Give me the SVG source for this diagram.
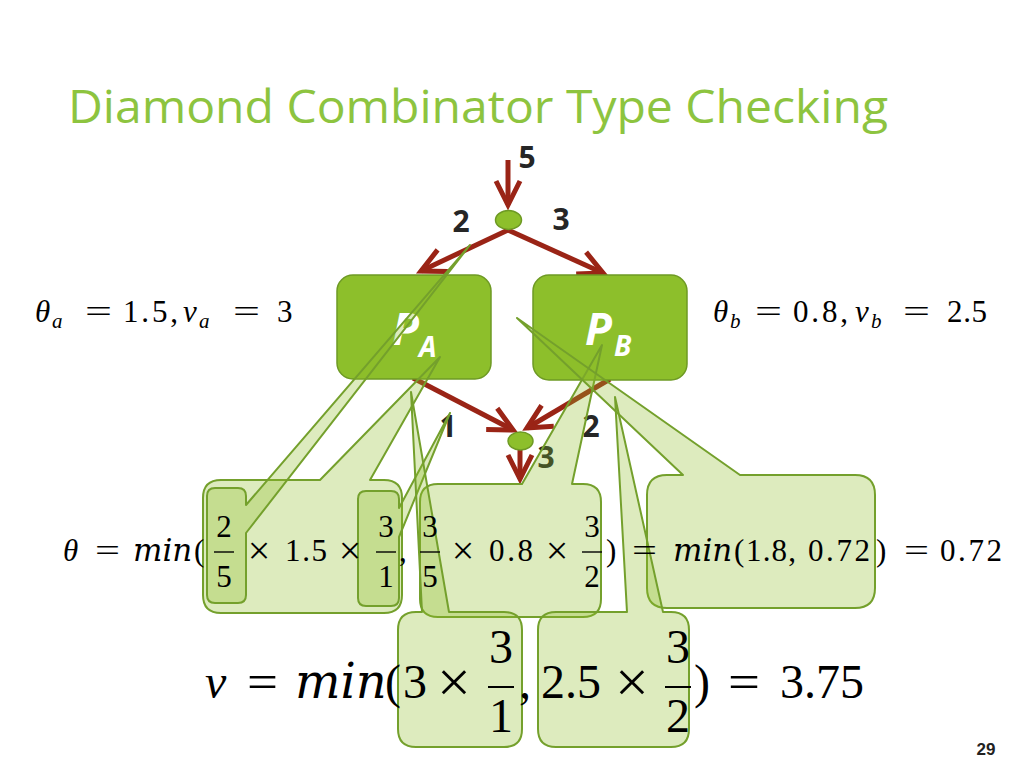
<svg xmlns="http://www.w3.org/2000/svg" width="1024" height="768" viewBox="0 0 1024 768">
<style>
.title{font-family:"Open Sans","DejaVu Sans",sans-serif;font-size:46px;fill:#8dc43f}
.lbl{font-family:"Open Sans","DejaVu Sans",sans-serif;font-weight:bold;font-size:30px;fill:#262626}
.pl{font-family:"Open Sans","DejaVu Sans",sans-serif;font-weight:bold;font-style:italic;fill:#ffffff}
.m{font-family:"Liberation Serif","DejaVu Serif",serif;fill:#000}
.i{font-style:italic}
.mn{font-family:"DejaVu Serif","Liberation Serif",serif;font-style:italic}
.s{font-size:31px}
.b{font-size:48px}
.xs{font-size:40px}
.xb{font-size:60px}
.sub{font-size:21px;font-style:italic}
.box{fill:#8dbf2b;stroke:#6e9a24;stroke-width:1.5}
.dot{fill:#8dbf2b;stroke:#6e9a24;stroke-width:1.5}
.co{fill:#8dbe28;fill-opacity:0.3;stroke:#74a02c;stroke-width:2;stroke-linejoin:round}
.arr{stroke:#9a2416;stroke-width:5;fill:none;marker-end:url(#ah)}
.bar{stroke:#000;stroke-width:1.4}
.barb{stroke:#000;stroke-width:2}
.pg{font-family:"Liberation Sans",Arial,sans-serif;font-weight:bold;font-size:17px;fill:#222}
</style>
<defs>
<marker id="ah" markerUnits="userSpaceOnUse" orient="auto" refX="0" refY="0" markerWidth="40" markerHeight="40" style="overflow:visible">
<path d="M -24 -12 L 0 0 L -24 12" fill="none" stroke="#9a2416" stroke-width="5" stroke-linejoin="miter"/>
</marker>
</defs>
<rect width="1024" height="768" fill="#ffffff"/>
<text class="title" x="68" y="123" textLength="820" lengthAdjust="spacingAndGlyphs">Diamond Combinator Type Checking</text>

<g id="connectors">
<path class="arr" d="M 508 160 L 508 205"/>
<path class="arr" d="M 508 230 L 421 271"/>
<path class="arr" d="M 508 230 L 603 273"/>
<path class="arr" d="M 413 378 L 513 430"/>
<path class="arr" d="M 610 379 L 527 428"/>
<path class="arr" d="M 520 450 L 520 479"/>
</g>

<g id="split">
<ellipse class="dot" cx="508.5" cy="220" rx="13" ry="9.5"/>
</g>
<g id="join">
<ellipse class="dot" cx="520.5" cy="441" rx="12.5" ry="9"/>
</g>

<g id="PA">
<rect class="box" x="337" y="275" width="154" height="104" rx="16"/>
<text class="pl" x="392" y="345" font-size="44">P</text>
<text class="pl" x="419" y="357" font-size="28">A</text>
</g>
<g id="PB">
<rect class="box" x="533" y="275" width="154" height="105" rx="16"/>
<text class="pl" x="585" y="345" font-size="44">P</text>
<text class="pl" x="614" y="356" font-size="28">B</text>
</g>

<g id="labels">
<text class="lbl" x="527" y="168" text-anchor="middle">5</text>
<text class="lbl" x="461" y="232" text-anchor="middle">2</text>
<text class="lbl" x="561" y="230" text-anchor="middle">3</text>
<text class="lbl" x="448" y="437" text-anchor="middle">1</text>
<text class="lbl" x="591" y="437" text-anchor="middle">2</text>
<text class="lbl" x="546" y="468" text-anchor="middle">3</text>
</g>

<g id="callout-a"><path class="co" d="M 221 480 H 320 L 440 357 L 370 480 H 384 Q 402 480 402 498 V 595 Q 402 613 384 613 H 221 Q 203 613 203 595 V 498 Q 203 480 221 480 Z"/></g>
<g id="callout-b"><path class="co" d="M 215 488 H 238 Q 246 488 246 496 V 505 L 470 245 L 246 533 V 595 Q 246 603 238 603 H 215 Q 207 603 207 595 V 496 Q 207 488 215 488 Z"/></g>
<g id="callout-c"><path class="co" d="M 366 491 H 391 Q 399 491 399 499 V 508 L 450 413 L 399 537 V 598 Q 399 606 391 606 H 366 Q 358 606 358 598 V 499 Q 358 491 366 491 Z"/></g>
<g id="callout-d"><path class="co" d="M 438 484 H 522 L 602 345 L 572 484 H 583 Q 601 484 601 502 V 599 Q 601 617 583 617 H 438 Q 420 617 420 599 V 502 Q 420 484 438 484 Z"/></g>
<g id="callout-e"><path class="co" d="M 667 475 H 683 L 517 318 L 740 475 H 855 Q 875 475 875 495 V 588 Q 875 608 855 608 H 667 Q 647 608 647 588 V 495 Q 647 475 667 475 Z"/></g>
<g id="callout-f"><path class="co" d="M 416 612 H 422 L 411 392 L 449 612 H 504 Q 522 612 522 630 V 729 Q 522 747 504 747 H 416 Q 398 747 398 729 V 630 Q 398 612 416 612 Z"/></g>
<g id="callout-g"><path class="co" d="M 556 612 H 627 L 615 397 L 663 612 H 671 Q 689 612 689 630 V 729 Q 689 747 671 747 H 556 Q 538 747 538 729 V 630 Q 538 612 556 612 Z"/></g>

<g id="eq-a" class="m">
<text class="s i" x="35" y="322">θ</text>
<text class="sub" x="52" y="328">a</text>
<text class="s" x="85" y="322" textLength="27" lengthAdjust="spacingAndGlyphs">=</text>
<text class="s" x="123" y="322" textLength="55" lengthAdjust="spacing">1.5,</text>
<text class="s i" x="183" y="322">ν</text>
<text class="sub" x="199" y="328">a</text>
<text class="s" x="233" y="322" textLength="27" lengthAdjust="spacingAndGlyphs">=</text>
<text class="s" x="277" y="322">3</text>
</g>

<g id="eq-b" class="m">
<text class="s i" x="713" y="322">θ</text>
<text class="sub" x="730" y="328">b</text>
<text class="s" x="755" y="322" textLength="27" lengthAdjust="spacingAndGlyphs">=</text>
<text class="s" x="793" y="322" textLength="55" lengthAdjust="spacing">0.8,</text>
<text class="s i" x="855" y="322">ν</text>
<text class="sub" x="871" y="328">b</text>
<text class="s" x="903" y="322" textLength="27" lengthAdjust="spacingAndGlyphs">=</text>
<text class="s" x="947" y="322" textLength="40" lengthAdjust="spacing">2.5</text>
</g>

<g id="eq-theta" class="m">
<text class="s i" x="63" y="561">θ</text>
<text class="s" x="95" y="561" textLength="25" lengthAdjust="spacingAndGlyphs">=</text>
<text class="s mn" x="133" y="561" font-size="31">min</text>
<text class="s" x="194" y="561">(</text>
<text class="s" x="224" y="537" text-anchor="middle">2</text>
<line class="bar" x1="214" y1="552" x2="234" y2="552"/>
<text class="s" x="224" y="587" text-anchor="middle">5</text>
<text class="xs" x="259" y="564" text-anchor="middle">×</text>
<text class="s" x="285" y="561" textLength="42" lengthAdjust="spacing">1.5</text>
<text class="xs" x="350" y="564" text-anchor="middle">×</text>
<text class="s" x="386" y="537" text-anchor="middle">3</text>
<line class="bar" x1="376" y1="552" x2="396" y2="552"/>
<text class="s" x="386" y="587" text-anchor="middle">1</text>
<text class="s" x="399" y="561">,</text>
<text class="s" x="430" y="537" text-anchor="middle">3</text>
<line class="bar" x1="420" y1="552" x2="440" y2="552"/>
<text class="s" x="430" y="587" text-anchor="middle">5</text>
<text class="xs" x="463" y="564" text-anchor="middle">×</text>
<text class="s" x="489" y="561" textLength="44" lengthAdjust="spacing">0.8</text>
<text class="xs" x="557" y="564" text-anchor="middle">×</text>
<text class="s" x="592" y="537" text-anchor="middle">3</text>
<line class="bar" x1="582" y1="552" x2="602" y2="552"/>
<text class="s" x="592" y="587" text-anchor="middle">2</text>
<text class="s" x="606" y="561">)</text>
<text class="s" x="632" y="561" textLength="25" lengthAdjust="spacingAndGlyphs">=</text>
<text class="s mn" x="673" y="561" font-size="31">min</text>
<text class="s" x="734" y="561">(</text>
<text class="s" x="746" y="561" textLength="50" lengthAdjust="spacing">1.8,</text>
<text class="s" x="808" y="561" textLength="62" lengthAdjust="spacing">0.72</text>
<text class="s" x="876" y="561">)</text>
<text class="s" x="904" y="561" textLength="25" lengthAdjust="spacingAndGlyphs">=</text>
<text class="s" x="940" y="561" textLength="62" lengthAdjust="spacing">0.72</text>
</g>

<g id="eq-nu" class="m">
<text class="b i" x="205" y="698">ν</text>
<text class="b" x="247" y="698" textLength="31" lengthAdjust="spacingAndGlyphs">=</text>
<text class="b mn" x="295" y="698" font-size="46">min</text>
<text class="b" x="385" y="698">(</text>
<text class="b" x="403" y="698">3</text>
<text class="xb" x="454" y="702" text-anchor="middle">×</text>
<text class="b" x="501" y="663" text-anchor="middle">3</text>
<line class="barb" x1="488" y1="687" x2="514" y2="687"/>
<text class="b" x="501" y="732" text-anchor="middle">1</text>
<text class="b" x="519" y="698">,</text>
<text class="b" x="541" y="698">2.5</text>
<text class="xb" x="632" y="702" text-anchor="middle">×</text>
<text class="b" x="678" y="663" text-anchor="middle">3</text>
<line class="barb" x1="665" y1="687" x2="691" y2="687"/>
<text class="b" x="678" y="732" text-anchor="middle">2</text>
<text class="b" x="694" y="698">)</text>
<text class="b" x="728" y="698" textLength="32" lengthAdjust="spacingAndGlyphs">=</text>
<text class="b" x="780" y="698">3.75</text>
</g>

<text class="pg" x="986" y="755" text-anchor="middle">29</text>
</svg>
